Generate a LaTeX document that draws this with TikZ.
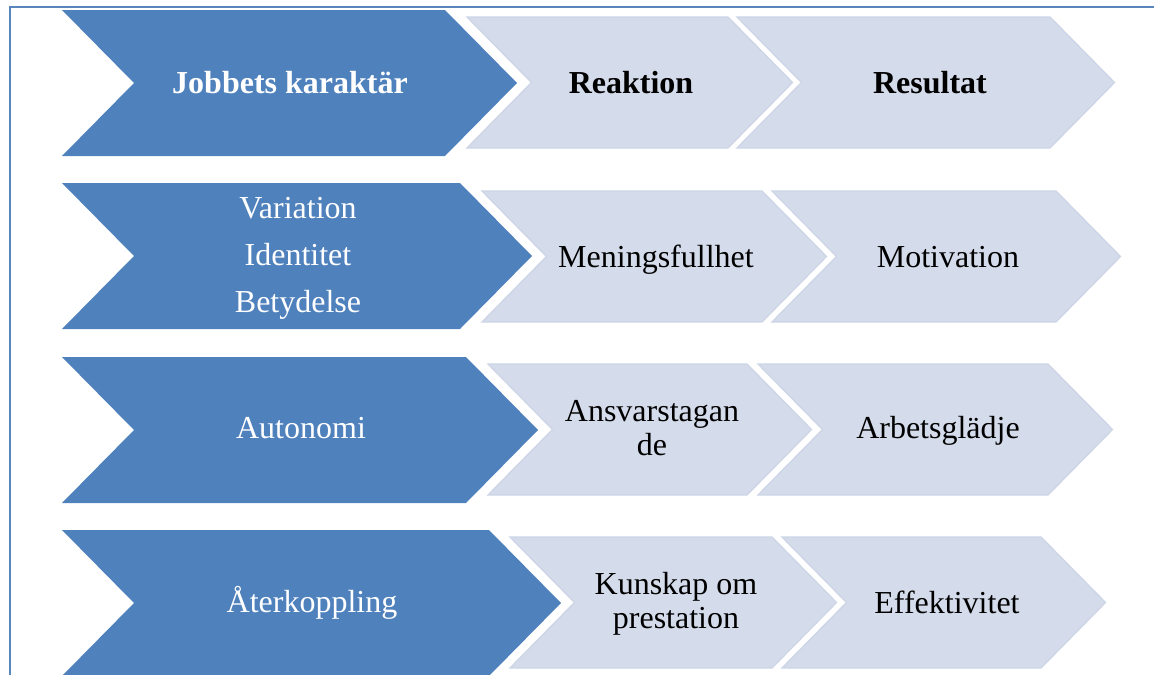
\documentclass[tikz,border=0pt]{standalone}
\usepackage{fontspec}
\setmainfont{Liberation Serif}
\definecolor{darkblue}{HTML}{4F81BD}
\definecolor{lightfill}{HTML}{D4DBEA}
\definecolor{lightedge}{HTML}{CDD5E6}
\definecolor{frameblue}{HTML}{5A84BC}
\newcommand\mychev[5]{%
  \pgfmathsetmacro\hh{(#5-#4)/2}%
  \pgfmathsetmacro\dd{\hh-1}%
  \path[#1] (#2,#4) -- (#3,#4) -- ({#3+\dd},{#4+\hh}) -- (#3,#5) -- (#2,#5) -- ({#2+\dd},{#4+\hh}) -- cycle;}
\tikzset{
  darkchev/.style={fill=darkblue},
  lightchev/.style={fill=lightfill, draw=lightedge, line width=1pt, line join=miter},
  darktxt/.style={text=white, font=\fontsize{24}{25}\selectfont, align=center, inner sep=0pt, anchor=base},
  lighttxt/.style={text=black, font=\fontsize{24}{25}\selectfont, align=center, inner sep=0pt, anchor=base},
  headdark/.style={darktxt, font=\fontsize{24}{25}\selectfont\bfseries},
  headlight/.style={lighttxt, font=\fontsize{24}{25}\selectfont\bfseries},
  frameline/.style={draw=frameblue, line width=0.9pt}
}
\begin{document}
\begin{tikzpicture}[x=0.75pt, y=-0.75pt]
\useasboundingbox (0,0) rectangle (1154,675);
\begin{scope}
\clip (0,0) rectangle (1154,675);
% frame
\draw[frameline] (10,680) -- (10,7) -- (1160,7);
% row 1
\mychev{darkchev}{62}{445}{10}{156}
\mychev{lightchev}{467}{728}{17}{148}
\mychev{lightchev}{737}{1050}{17}{148}
% row 2
\mychev{darkchev}{62}{460}{183}{329}
\mychev{lightchev}{482}{762}{191}{322}
\mychev{lightchev}{772}{1056}{191}{322}
% row 3
\mychev{darkchev}{62}{466}{357}{503}
\mychev{lightchev}{488}{747}{364}{495}
\mychev{lightchev}{758}{1048}{364}{495}
% row 4
\mychev{darkchev}{62}{489}{530}{676}
\mychev{lightchev}{510}{772}{537}{668}
\mychev{lightchev}{782}{1041}{537}{668}
\end{scope}
% texts (placed by baseline of last line)
\node[headdark] (h1) at (290,93) {Jobbets karaktär};
\node[headlight] (h2) at (631,93) {Reaktion};
\node[headlight] (h3) at (930,93) {Resultat};
\node[darktxt] (a1) at (298,312) {Variation\\[10pt]Identitet\\[10pt]Betydelse};
\node[lighttxt] (b1) at (656,267) {Meningsfullhet};
\node[lighttxt] (c1) at (948,267) {Motivation};
\node[darktxt] (a2) at (301,438) {Autonomi};
\node[lighttxt] (b2) at (652,455) {Ansvarstagan\\de};
\node[lighttxt] (c2) at (938,438) {Arbetsglädje};
\node[darktxt] (a3) at (312,612) {Återkoppling};
\node[lighttxt] (b3) at (676,628) {Kunskap om\\prestation};
\node[lighttxt] (c3) at (947,613) {Effektivitet};
\end{tikzpicture}
\end{document}
